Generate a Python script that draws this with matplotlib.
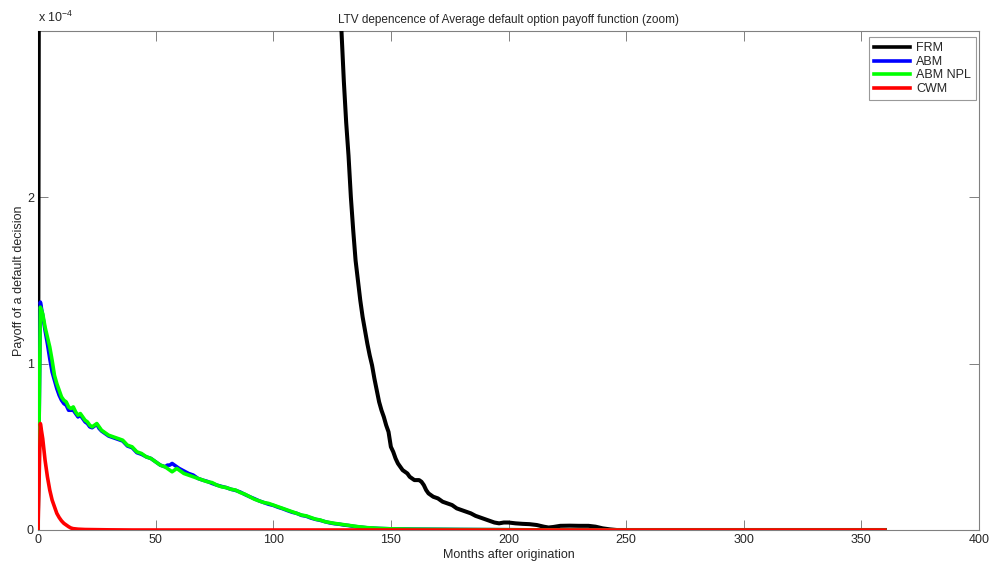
import matplotlib
matplotlib.use("Agg")
import matplotlib.pyplot as plt

plt.rcParams['font.family'] = ['Liberation Sans', 'DejaVu Sans']

# ---------------- data (values in units of 1e-4) ----------------
frm_months = [0, 1, 30, 60, 100, 120, 125, 128, 129, 130, 131, 132, 133, 134, 135,
              136, 137, 138, 139, 140, 141, 142, 143, 144, 145, 146, 147, 148, 149,
              150, 151, 152, 153, 154, 155, 156, 157, 158, 159, 160, 161, 162, 163,
              164, 165, 166, 167, 168, 170, 172, 174, 176, 178, 180, 182, 184, 186,
              188, 190, 192, 194, 196, 198, 200, 203, 206, 209, 212, 215, 217, 219,
              222, 226, 230, 234, 237, 240, 243, 246, 360]
frm_vals = [0.0, 9.0, 8.0, 7.0, 5.0, 4.0, 3.6, 3.3, 3.0, 2.7, 2.45, 2.25, 2.0, 1.8, 1.62,
            1.5, 1.38, 1.28, 1.2, 1.12, 1.05, 0.99, 0.91, 0.84, 0.77, 0.72, 0.68, 0.63, 0.59,
            0.5, 0.47, 0.43, 0.4, 0.38, 0.36, 0.35, 0.34, 0.32, 0.31, 0.3, 0.3, 0.3, 0.29,
            0.27, 0.24, 0.22, 0.21, 0.2, 0.19, 0.17, 0.16, 0.15, 0.13, 0.12, 0.11, 0.1, 0.085,
            0.075, 0.065, 0.055, 0.045, 0.04, 0.045, 0.045, 0.04, 0.037, 0.035, 0.03, 0.02, 0.015, 0.018,
            0.025, 0.026, 0.025, 0.025, 0.02, 0.01, 0.004, 0.0, 0.0]

abm_months = [0, 1, 2, 3, 4, 5, 6, 7, 8, 9, 10, 11, 12, 13, 14, 15, 16, 17, 18, 19, 20,
              21, 22, 23, 24, 25, 26, 27, 28, 30, 32, 34, 36, 38, 40, 42, 44, 46, 48, 50,
              52, 54, 55, 56, 57, 58, 59, 60, 62, 64, 66, 68, 70, 72, 74, 76, 78, 80, 82,
              84, 86, 88, 90, 92, 94, 96, 98, 100, 102, 104, 106, 108, 110, 112, 114, 116,
              118, 120, 122, 124, 126, 128, 130, 132, 134, 136, 138, 140, 145, 150, 160,
              170, 180, 195, 210, 230, 360]
abm_vals = [0.0, 1.37, 1.29, 1.2, 1.12, 1.03, 0.95, 0.9, 0.85, 0.81, 0.78, 0.76, 0.75, 0.72,
            0.72, 0.72, 0.7, 0.68, 0.69, 0.67, 0.65, 0.64, 0.62, 0.615, 0.625, 0.635, 0.61, 0.595,
            0.585, 0.565, 0.555, 0.545, 0.535, 0.505, 0.495, 0.465, 0.455, 0.44, 0.43, 0.41, 0.39, 0.38,
            0.39, 0.39, 0.4, 0.39, 0.38, 0.37, 0.355, 0.34, 0.33, 0.31, 0.3, 0.292, 0.28, 0.27,
            0.262, 0.255, 0.245, 0.238, 0.228, 0.213, 0.2, 0.188, 0.175, 0.165, 0.155, 0.148,
            0.137, 0.128, 0.117, 0.107, 0.1, 0.088, 0.083, 0.072, 0.064, 0.058, 0.05, 0.043,
            0.038, 0.035, 0.03, 0.027, 0.022, 0.019, 0.016, 0.013, 0.009, 0.007, 0.005,
            0.004, 0.003, 0.002, 0.001, 0.0, 0.0]

npl_months = [0, 1, 2, 3, 4, 5, 6, 7, 8, 9, 10, 11, 12, 13, 14, 15, 16, 17, 18, 19, 20,
              21, 22, 23, 24, 25, 26, 27, 28, 30, 32, 34, 36, 38, 40, 42, 44, 46, 48, 50,
              52, 54, 56, 57, 58, 59, 60, 62, 64, 66, 68, 70, 72, 74, 76, 78, 80, 82, 84,
              86, 88, 90, 92, 94, 96, 98, 100, 102, 104, 106, 108, 110, 112, 114, 116, 118,
              120, 122, 124, 126, 128, 130, 132, 134, 136, 138, 140, 145, 150, 160, 170,
              180, 195, 210, 230, 360]
npl_vals = [0.0, 1.34, 1.3, 1.22, 1.16, 1.1, 1.02, 0.93, 0.88, 0.84, 0.8, 0.78, 0.77, 0.74,
            0.73, 0.74, 0.71, 0.69, 0.7, 0.68, 0.66, 0.65, 0.63, 0.62, 0.63, 0.64, 0.62, 0.6,
            0.59, 0.57, 0.56, 0.55, 0.54, 0.51, 0.5, 0.47, 0.46, 0.44, 0.43, 0.41, 0.39, 0.38,
            0.36, 0.35, 0.36, 0.37, 0.36, 0.34, 0.33, 0.32, 0.31, 0.3, 0.29, 0.285, 0.27, 0.26,
            0.255, 0.245, 0.24, 0.225, 0.215, 0.2, 0.185, 0.175, 0.165, 0.16, 0.15, 0.14, 0.13,
            0.12, 0.11, 0.1, 0.09, 0.085, 0.075, 0.065, 0.06, 0.05, 0.045, 0.04, 0.036, 0.032,
            0.028, 0.024, 0.02, 0.017, 0.014, 0.01, 0.007, 0.005, 0.004, 0.003, 0.002, 0.001,
            0.0, 0.0]

cwm_months = [0, 1, 2, 3, 4, 5, 6, 7, 8, 9, 10, 11, 12, 13, 14, 15, 17, 20, 25, 30, 40, 360]
cwm_vals = [0.0, 0.64, 0.55, 0.42, 0.32, 0.24, 0.18, 0.14, 0.1, 0.075, 0.055, 0.04, 0.03,
            0.02, 0.012, 0.008, 0.005, 0.003, 0.002, 0.001, 0.0, 0.0]

series_names = ['FRM', 'ABM', 'ABM NPL', 'CWM']
x_ticks = [0, 50, 100, 150, 200, 250, 300, 350, 400]
y_ticks = [0, 1, 2]
scale = 1e-4

# ---------------- figure ----------------
fig = plt.figure(figsize=(9.9, 5.62), dpi=100)
ax = fig.add_axes([38 / 990, 32 / 562, 941 / 990, 499 / 562])

lw = 2.6
ax.plot(frm_months, [v * scale for v in frm_vals], color='black', lw=2.9, label=series_names[0],
        solid_joinstyle='round', zorder=3)
ax.plot(abm_months, [v * scale for v in abm_vals], color='#0000ff', lw=lw, label=series_names[1],
        solid_joinstyle='round', zorder=3.1)
ax.plot(npl_months, [v * scale for v in npl_vals], color='#00ff00', lw=lw, label=series_names[2],
        solid_joinstyle='round', zorder=3.2)
ax.plot(cwm_months, [v * scale for v in cwm_vals], color='#ff0000', lw=lw, label=series_names[3],
        solid_joinstyle='round', zorder=3.3)

ax.set_xlim(0, 400)
ax.set_ylim(0, 3e-4)
ax.set_xticks(x_ticks)
ax.set_xticklabels([str(t) for t in x_ticks])
ax.set_yticks([t * scale for t in y_ticks])
ax.set_yticklabels([str(t) for t in y_ticks])

gray = '#808080'
txt = '#262626'
for s in ax.spines.values():
    s.set_color(gray)
    s.set_linewidth(0.8)
ax.tick_params(direction='in', length=7, width=0.7, color=gray, labelcolor=txt,
               labelsize=9, top=True, right=True, pad=3)

ax.set_title('LTV depencence of Average default option payoff function (zoom)',
             fontsize=8.5, color=txt, pad=6)
ax.set_xlabel('Months after origination', fontsize=9, color=txt, labelpad=2)
ax.set_ylabel('Payoff of a default decision', fontsize=9, color=txt, labelpad=1)

ax.text(0.0, 1.012, r'x 10$^{\mathregular{-4}}$', transform=ax.transAxes,
        fontsize=9, color=txt, ha='left', va='bottom')

leg = ax.legend(loc='upper right', bbox_to_anchor=(0.997, 0.987), fontsize=9,
                frameon=True, fancybox=False, handlelength=2.9, handletextpad=0.5,
                borderpad=0.4, labelspacing=0.12, borderaxespad=0)
leg.set_zorder(5)
leg.get_frame().set_edgecolor(gray)
leg.get_frame().set_linewidth(0.8)
for line in leg.get_lines():
    line.set_linewidth(2.6)
for t in leg.get_texts():
    t.set_color(txt)

fig.savefig('out.png', dpi=100, facecolor='white')
